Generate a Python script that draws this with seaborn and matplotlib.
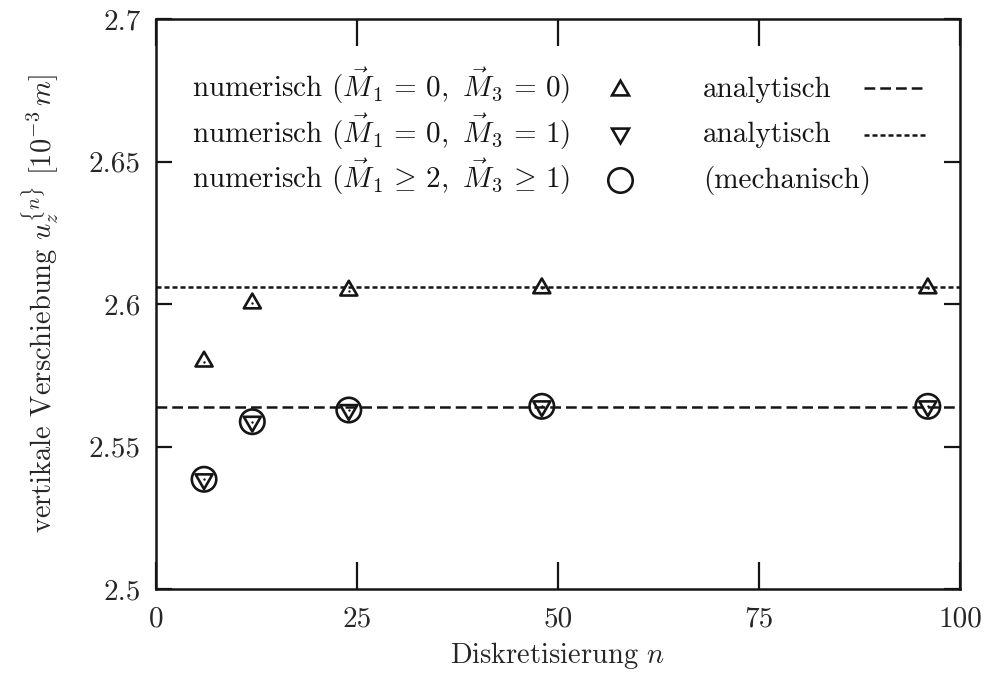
import matplotlib
matplotlib.use("Agg")
import matplotlib.pyplot as plt
import seaborn as sns
import pandas as pd
from matplotlib.lines import Line2D
from matplotlib.ticker import FixedLocator, FuncFormatter

# ---- data ----
n_values = [6, 12, 24, 48, 96]
u_m1_0_m3_0 = [2.5798, 2.6002, 2.6047, 2.6055, 2.6055]
u_m1_0_m3_1 = [2.5385, 2.5587, 2.5628, 2.5641, 2.5641]
u_m1_2_m3_1 = [2.5385, 2.5587, 2.5628, 2.5641, 2.5641]
analytic_upper = 2.6058
analytic_lower = 2.5640
x_ticks = [0, 25, 50, 75, 100]
y_ticks = [2.5, 2.55, 2.6, 2.65, 2.7]

labels_left = [
    r"numerisch ($\vec{M}_1\,=\,0,\ \vec{M}_3\,=\,0$)",
    r"numerisch ($\vec{M}_1\,=\,0,\ \vec{M}_3\,=\,1$)",
    r"numerisch ($\vec{M}_1\,\geq\,2,\ \vec{M}_3\,\geq\,1$)",
]
labels_right = ["analytisch", "analytisch", "(mechanisch)"]

sns.set_style("ticks")
plt.rcParams["font.family"] = ["cmr10", "DejaVu Serif"]
plt.rcParams["mathtext.fontset"] = "cm"
plt.rcParams["axes.formatter.use_mathtext"] = True
plt.rcParams["axes.unicode_minus"] = False

W, H = 989, 696
fig = plt.figure(figsize=(W / 100, H / 100), dpi=100)
L, R, T, B = 155.8, 960.0, 19.0, 589.0
ax = fig.add_axes([L / W, 1 - B / H, (R - L) / W, (B - T) / H])

df = pd.DataFrame({"n": n_values, "a": u_m1_0_m3_0, "b": u_m1_0_m3_1, "c": u_m1_2_m3_1})

ink = "#151515"
lw_line = 1.8
dash_long = (0, (4.3, 2.0))
dash_short = (0, (2.0, 1.2))
ax.axhline(analytic_lower, color=ink, lw=lw_line, ls=dash_long, zorder=1)
ax.axhline(analytic_upper, color=ink, lw=lw_line, ls=dash_short, zorder=1)

tri_up = (3, 0, 0)
tri_dn = (3, 0, 180)
sns.scatterplot(data=df, x="n", y="a", marker=tri_up, s=200, facecolor="none",
                edgecolor=ink, linewidth=1.9, ax=ax, zorder=3)
sns.scatterplot(data=df, x="n", y="b", marker=tri_dn, s=200, facecolor="none",
                edgecolor=ink, linewidth=1.9, ax=ax, zorder=3)
sns.scatterplot(data=df, x="n", y="c", marker="o", s=310, facecolor="none",
                edgecolor=ink, linewidth=1.9, ax=ax, zorder=3)
for col in ["a", "b"]:
    ax.scatter(df["n"], df[col], s=3, color=ink, zorder=4, linewidths=0)

ax.set_xlim(0, 100)
ax.set_ylim(2.5, 2.7)
ax.xaxis.set_major_locator(FixedLocator(x_ticks))
ax.yaxis.set_major_locator(FixedLocator(y_ticks))
fmt = FuncFormatter(lambda v, p: f"{v:g}")
ax.xaxis.set_major_formatter(fmt)
ax.yaxis.set_major_formatter(fmt)
ax.tick_params(axis="both", direction="in", width=1.6, top=True, right=True,
               labelsize=21, color=ink)
ax.tick_params(axis="x", length=19.5, pad=12)
ax.tick_params(axis="y", length=11.5, pad=11)
for sp in ax.spines.values():
    sp.set_visible(True)
    sp.set_linewidth(1.8)
    sp.set_color(ink)

ax.set_xlabel(r"Diskretisierung $n$", fontsize=20.5, labelpad=6)
ax.set_ylabel(r"vertikale Verschiebung $u_z^{\{n\}}$ $[10^{-3}\,m]$", fontsize=20.5, labelpad=20)

# ---- key (gnuplot style: left-aligned text, sample to the right) ----
def fx(px):
    return px / W

def fy(py):
    return 1 - py / H

baselines = [96.7, 142.5, 188.0]
sample_y = [90.0, 133.0, 180.0]
for lab, yb in zip(labels_left, baselines):
    fig.text(fx(192), fy(yb), lab, fontsize=21, va="baseline", ha="left", color=ink)
for lab, yb in zip(labels_right, baselines):
    fig.text(fx(703), fy(yb), lab, fontsize=21, va="baseline", ha="left", color=ink)

mk = dict(color=ink, linestyle="none", markerfacecolor="none", markeredgewidth=1.9,
          transform=fig.transFigure)
fig.add_artist(Line2D([fx(620)], [fy(sample_y[0])], marker=tri_up, markersize=14.1, **mk))
fig.add_artist(Line2D([fx(620)], [fy(sample_y[1])], marker=tri_dn, markersize=14.1, **mk))
fig.add_artist(Line2D([fx(620)], [fy(sample_y[2])], marker="o", markersize=17.6, **mk))
fig.add_artist(Line2D([fx(864), fx(927)], [fy(88)] * 2, color=ink, lw=lw_line,
                      ls=dash_long, transform=fig.transFigure))
fig.add_artist(Line2D([fx(864), fx(927)], [fy(135)] * 2, color=ink, lw=lw_line,
                      ls=dash_short, transform=fig.transFigure))

fig.savefig("out.png", dpi=100)
